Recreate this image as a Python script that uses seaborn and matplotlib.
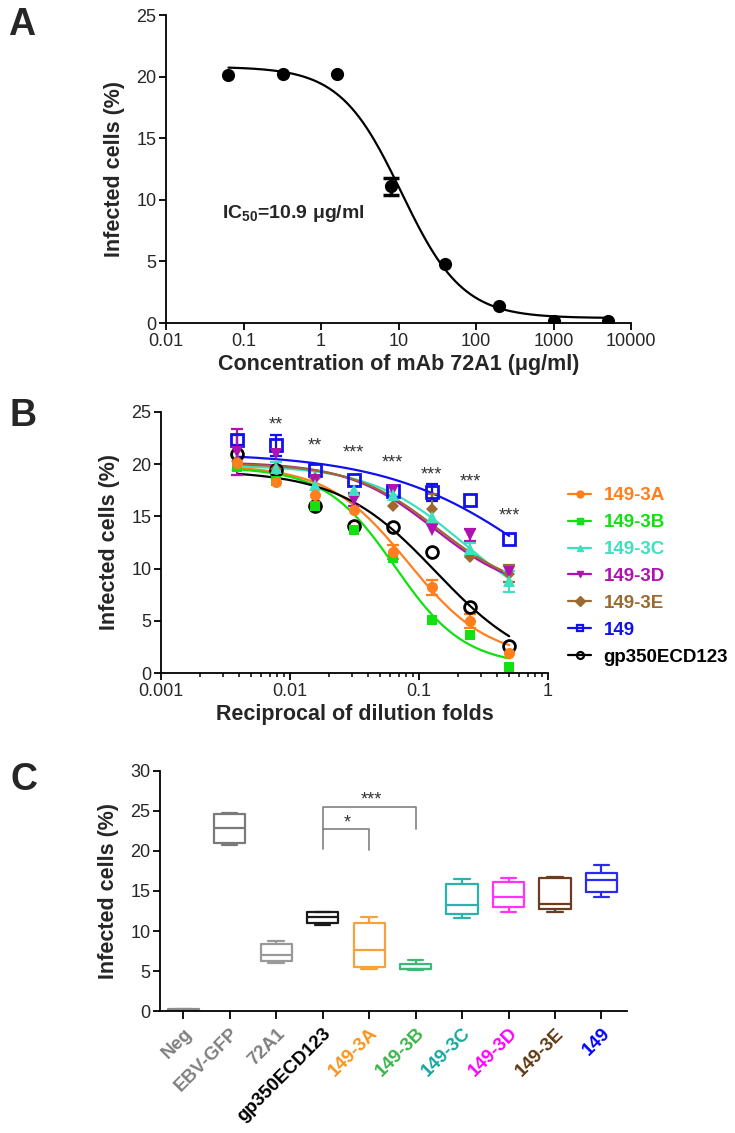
import numpy as np
import pandas as pd
import matplotlib
matplotlib.use("Agg")
import matplotlib.pyplot as plt
import seaborn as sns
from matplotlib.lines import Line2D
from matplotlib.ticker import LogLocator, NullLocator, NullFormatter

# ---------------- panel A : neutralisation by mAb 72A1 ----------------
a_conc = [0.064, 0.32, 1.6, 8, 40, 200, 1000, 5000]
a_inf = [20.1, 20.2, 20.2, 11.1, 4.8, 1.4, 0.2, 0.15]
a_err = [0, 0, 0, 0.7, 0, 0, 0, 0]
a_fit = [20.8, 0.4, 10.9, 1.1]          # top, bottom, IC50, hill
a_ticks = [0.01, 0.1, 1, 10, 100, 1000, 10000]
a_ticklabels = ["0.01", "0.1", "1", "10", "100", "1000", "10000"]

# ---------------- panel B : sera dilution curves ----------------
b_dil = [1 / 256, 1 / 128, 1 / 64, 1 / 32, 1 / 16, 1 / 8, 1 / 4, 1 / 2]
b_names = ["149-3A", "149-3B", "149-3C", "149-3D", "149-3E", "149", "gp350ECD123"]
b_3a = [20.15, 18.3, 17.05, 15.6, 11.6, 8.2, 5.0, 1.95]
b_3b = [19.75, 18.4, 16.0, 13.7, 11.0, 5.1, 3.6, 0.6]
b_3c = [19.9, 19.6, 18.0, 17.5, 17.05, 14.9, 11.85, 8.8]
b_3d = [21.2, 21.0, 18.5, 16.6, 17.5, 13.7, 13.2, 9.7]
b_3e = [20.3, 19.5, 18.7, 17.0, 16.0, 15.7, 11.1, 9.5]
b_149 = [22.3, 21.8, 19.4, 18.5, 17.4, 17.3, 16.6, 12.8]
b_gp = [20.95, 19.4, 16.0, 14.1, 14.0, 11.6, 6.35, 2.6]
b_3a_sd = [0, 0, 0, 0, 0.65, 0.7, 0.65, 0]
b_3b_sd = [0, 0, 0, 0, 0, 0, 0, 0]
b_3c_sd = [0, 0.6, 0, 0, 0, 0, 0.6, 1.0]
b_3d_sd = [2.2, 0, 0, 0.6, 0, 0, 0.6, 0]
b_3e_sd = [0, 0, 0, 0, 0, 1.4, 0, 0.8]
b_149_sd = [0.5, 1.0, 0, 0, 0, 0.8, 0, 0]
b_gp_sd = [0, 0, 0, 0, 0, 0, 0, 0]
# 4PL fits: top, bottom, EC50, hill
b_3a_fit = [19.9, 1.3, 0.082, 1.4]
b_3b_fit = [19.7, 0.7, 0.065, 1.6]
b_3c_fit = [19.9, 5.0, 0.22, 1.2]
b_3d_fit = [20.2, 7.5, 0.13, 1.3]
b_3e_fit = [20.1, 7.5, 0.14, 1.3]
b_149_fit = [21.1, 0.0, 1.0, 0.72]
b_gp_fit = [19.4, 0.0, 0.135, 1.15]
b_star_y = [23.75, 21.75, 21.05, 20.1, 19.0, 18.3, 15.0]
b_star_txt = ["**", "**", "***", "***", "***", "***", "***"]
b_ticks = [0.001, 0.01, 0.1, 1]
b_ticklabels = ["0.001", "0.01", "0.1", "1"]

# ---------------- panel C : box plots ----------------
c_groups = ["Neg", "EBV-GFP", "72A1", "gp350ECD123", "149-3A", "149-3B",
            "149-3C", "149-3D", "149-3E", "149"]
c_neg = [0.0, 0.05, 0.1, 0.2, 0.3]
c_ebv = [20.8, 21.0, 22.9, 24.6, 24.8]
c_72a1 = [6.0, 6.2, 7.0, 8.4, 8.8]
c_gp = [10.7, 11.0, 11.7, 12.35, 12.4]
c_3a = [5.2, 5.5, 7.6, 11.0, 11.8]
c_3b = [5.1, 5.2, 5.3, 5.9, 6.4]
c_3c = [11.6, 12.1, 13.3, 15.9, 16.5]
c_3d = [12.4, 13.0, 14.2, 16.1, 16.6]
c_3e = [12.4, 12.7, 13.4, 16.6, 16.8]
c_149 = [14.25, 14.9, 16.4, 17.3, 18.25]

b_colors = ["#ff7f1e", "#11e011", "#3fe0c0", "#b012b0", "#9c6a30", "#1010f0", "black"]
c_box_colors = ["#8c8c8c", "#7a7a7a", "#999999", "#1a1a1a", "#f5a23c", "#3cb878",
                "#2ab3a8", "#ff33ff", "#6b3d1e", "#2b2bf0"]
c_label_colors = ["#808080", "#808080", "#808080", "black", "#f7941d", "#3cb44b",
                  "#13a89e", "#ff00ff", "#603913", "#0000ff"]


def four_pl(x, p):
    top, bottom, ec50, hill = p
    return bottom + (top - bottom) / (1 + (x / ec50) ** hill)


sns.set_theme(style="ticks")
plt.rcParams["font.family"] = ["Liberation Sans", "DejaVu Sans"]
plt.rcParams["mathtext.fontset"] = "custom"
plt.rcParams["mathtext.rm"] = "Liberation Sans"
plt.rcParams["mathtext.bf"] = "Liberation Sans:bold"

fig = plt.figure(figsize=(7.35, 11.33), dpi=100)
W, H = 735, 1133


def add_ax(left, right, top, bottom):
    return fig.add_axes([left / W, 1 - bottom / H, (right - left) / W, (bottom - top) / H])


def style_ax(ax):
    sns.despine(ax=ax)
    for s in ["left", "bottom"]:
        ax.spines[s].set_linewidth(1.3)
        ax.spines[s].set_color("black")
    ax.tick_params(which="major", length=5, width=1.3, labelsize=13, color="black", pad=2)
    ax.tick_params(which="minor", length=3, width=1.1, color="black")
    ax.set_ylabel("Infected cells (%)", fontsize=15.5, fontweight="bold", labelpad=8)


def nonzero_err(ax, x, y, err, color, lw, cap):
    keep = [i for i, e in enumerate(err) if e > 0]
    if not keep:
        return
    ax.errorbar([x[i] for i in keep], [y[i] for i in keep], yerr=[err[i] for i in keep],
                fmt="none", ecolor=color, elinewidth=lw, capsize=cap, capthick=lw, zorder=3)


# ---- A ----
axA = add_ax(166, 631, 15, 323)
xs = np.geomspace(a_conc[0], a_conc[-1], 300)
sns.lineplot(x=xs, y=four_pl(xs, a_fit), color="black", lw=1.6, ax=axA)
nonzero_err(axA, a_conc, a_inf, a_err, "black", 2.5, 6)
sns.lineplot(x=a_conc, y=a_inf, marker="o", linestyle="", color="black", ms=9.5,
             markeredgewidth=0, ax=axA, zorder=4)
axA.set_xscale("log")
axA.set_xlim(0.01, 10000)
axA.set_ylim(0, 25)
axA.set_xticks(a_ticks)
axA.set_xticklabels(a_ticklabels)
axA.xaxis.set_minor_locator(NullLocator())
axA.set_yticks([0, 5, 10, 15, 20, 25])
style_ax(axA)
axA.set_xlabel("Concentration of mAb 72A1 (μg/ml)", fontsize=15.5, fontweight="bold", labelpad=3)
axA.text(0.053, 8.9, r"$\mathbf{IC_{50}}$=10.9 μg/ml", fontsize=14, fontweight="bold",
         va="center", ha="left")

# ---- B ----
axB = add_ax(161, 548, 412, 673)
b_vals = [b_3a, b_3b, b_3c, b_3d, b_3e, b_149, b_gp]
b_sds = [b_3a_sd, b_3b_sd, b_3c_sd, b_3d_sd, b_3e_sd, b_149_sd, b_gp_sd]
b_fits = [b_3a_fit, b_3b_fit, b_3c_fit, b_3d_fit, b_3e_fit, b_149_fit, b_gp_fit]
b_markers = ["o", "s", "^", "v", "D", "s", "o"]
b_ms = [8, 7.5, 8, 8, 6, 8, 8.5]
b_open = [False, False, False, False, False, True, True]

xs = np.geomspace(b_dil[0], b_dil[-1], 300)
for i in range(len(b_names)):
    sns.lineplot(x=xs, y=four_pl(xs, b_fits[i]), color=b_colors[i], lw=1.6, ax=axB, zorder=2)

draw_order = [6, 5, 4, 3, 2, 1, 0]
for i in draw_order:
    nonzero_err(axB, b_dil, b_vals[i], b_sds[i], b_colors[i], 1.6, 4)
    if b_open[i]:
        kw = dict(markerfacecolor="none", markeredgecolor=b_colors[i], markeredgewidth=2)
    else:
        kw = dict(markerfacecolor=b_colors[i], markeredgewidth=0)
    sns.lineplot(x=b_dil, y=b_vals[i], marker=b_markers[i], linestyle="", ms=b_ms[i],
                 color=b_colors[i], ax=axB, zorder=4, **kw)

for xv, yv, t in zip(b_dil[1:], b_star_y, b_star_txt):
    axB.text(xv, yv, t, fontsize=13, color="#333333", ha="center", va="center")

axB.set_xscale("log")
axB.set_xlim(0.001, 1)
axB.set_ylim(0, 25)
axB.set_xticks(b_ticks)
axB.set_xticklabels(b_ticklabels)
axB.xaxis.set_minor_locator(LogLocator(base=10, subs=np.arange(2, 10)))
axB.xaxis.set_minor_formatter(NullFormatter())
axB.set_yticks([0, 5, 10, 15, 20, 25])
style_ax(axB)
axB.set_xlabel("Reciprocal of dilution folds", fontsize=15.5, fontweight="bold", labelpad=3)

handles = []
for i in range(len(b_names)):
    if b_open[i]:
        h = Line2D([], [], color=b_colors[i], marker=b_markers[i], ms=5, lw=1.6,
                   markerfacecolor="none", markeredgewidth=1.6)
    else:
        h = Line2D([], [], color=b_colors[i], marker=b_markers[i], ms=5, lw=1.6)
    handles.append(h)
leg = axB.legend(handles, b_names, loc="center left", bbox_to_anchor=(1.032, 0.37),
                 borderaxespad=0, frameon=False, handlelength=1.25, handletextpad=0.65,
                 labelspacing=0.52, prop={"size": 13.5, "weight": "bold"})
for txt, col in zip(leg.get_texts(), b_colors):
    txt.set_color(col)

# ---- C ----
axC = add_ax(160, 627, 771, 1011)
c_vals = [c_neg, c_ebv, c_72a1, c_gp, c_3a, c_3b, c_3c, c_3d, c_3e, c_149]
df = pd.DataFrame({
    "group": np.repeat(c_groups, [len(v) for v in c_vals]),
    "value": np.concatenate(c_vals),
})
sns.boxplot(data=df, x="group", y="value", hue="group", order=c_groups, hue_order=c_groups,
            palette=dict(zip(c_groups, c_box_colors)), fill=False, width=0.67,
            whis=(0, 100), linewidth=1.6, legend=False, ax=axC)
axC.set_xlim(-0.5, 9.55)
axC.set_ylim(0, 30)
axC.set_yticks([0, 5, 10, 15, 20, 25, 30])
style_ax(axC)
axC.set_xlabel("")
axC.set_xticks(range(len(c_groups)))
axC.set_xticklabels(c_groups, rotation=45, ha="right", rotation_mode="anchor",
                    fontsize=13.5, fontweight="bold")
for lab, col in zip(axC.get_xticklabels(), c_label_colors):
    lab.set_color(col)
axC.tick_params(axis="x", length=6, pad=4)

# significance brackets
br = dict(color="#808080", lw=1.2, clip_on=False)
axC.plot([3, 3, 4, 4], [20.3, 22.7, 22.7, 20.1], **br)
axC.plot([3, 3, 5, 5], [22.7, 25.5, 25.5, 22.8], **br)
axC.text(3.52, 23.5, "*", fontsize=13, color="#333333", ha="center", va="center")
axC.text(4.05, 26.4, "***", fontsize=13, color="#333333", ha="center", va="center")

# panel letters
fig.text(8 / W, 1 - 25 / H, "A", fontsize=27, fontweight="bold", va="center", ha="left")
fig.text(9 / W, 1 - 416 / H, "B", fontsize=27, fontweight="bold", va="center", ha="left")
fig.text(10 / W, 1 - 780 / H, "C", fontsize=27, fontweight="bold", va="center", ha="left")

fig.savefig("out.png", dpi=100)
